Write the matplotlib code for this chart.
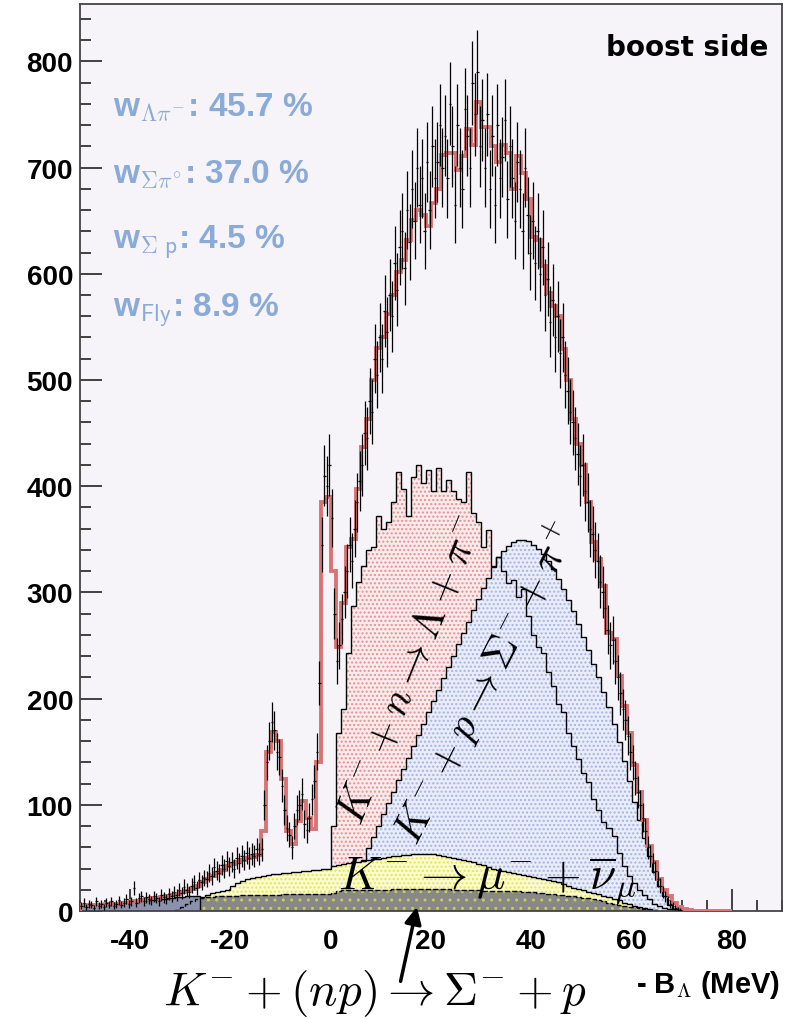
import numpy as np
import matplotlib
matplotlib.use("Agg")
import matplotlib.pyplot as plt
from matplotlib.ticker import MultipleLocator

plt.rcParams['font.family'] = ['Liberation Sans', 'DejaVu Sans']
plt.rcParams['font.weight'] = 'bold'
plt.rcParams['mathtext.fontset'] = 'cm'
plt.rcParams['axes.unicode_minus'] = False
plt.rcParams['hatch.linewidth'] = 1.0

# total fit, 1 MeV bins starting at -50
total_start = -50
total = [6, 6, 6, 6, 6, 7, 7, 7, 8, 8,
         9, 9, 10, 11, 12, 12, 13, 14, 15, 16,
         17.5, 19, 21, 24, 27, 30, 33, 36, 39, 42,
         44, 46, 48, 50, 51, 53, 75, 150, 169, 160,
         124, 75, 63, 85, 104, 88, 77, 140, 385, 390,
         320, 249, 290, 343, 350, 397, 437, 463, 500, 530,
         540, 562, 580, 602, 613, 632, 651, 660, 655, 645,
         667, 680, 712, 714, 714, 698, 711, 736, 721, 762,
         738, 738, 720, 705, 721, 714, 680, 711, 695, 670,
         635, 632, 607, 582, 570, 560, 529, 500, 463, 440,
         420, 385, 347, 331, 306, 262, 256, 221, 193, 168,
         137, 112, 86, 61, 46, 30, 20, 14, 8, 4,
         2, 0.5, 0, 0, 0, 0, 0, 0, 0, 0]

# measured spectrum, 0.5 MeV bins starting at -50
data_start = -50
data = [5, 8, 4, 7, 6, 3, 9, 5, 7, 4, 8, 6, 9, 5, 7, 10, 6, 8, 11, 7,
        9, 22, 8, 12, 14, 9, 13, 11, 10, 14, 12, 9, 15, 13, 11, 16, 14, 18, 15, 20,
        17, 23, 20, 18, 24, 27, 22, 29, 27, 31, 30, 36, 33, 41, 38, 36, 43, 40, 47, 42,
        46, 40, 50, 45, 52, 48, 55, 50, 54, 52, 58, 54,
        58, 100, 140, 160, 178, 170, 150, 145, 118, 95, 78, 72, 60, 80, 95, 100, 110, 82,
        76, 88, 105, 122, 150, 215,
        345, 410, 400, 420, 370, 280, 235, 250, 275, 300, 320, 345, 330, 360, 385, 405,
        420, 450, 445, 480, 470, 520, 505, 540, 520, 565, 545, 580, 560, 610, 585, 625,
        640, 605, 660, 630, 680, 650, 700, 665, 690, 640, 705, 660,
        720, 690, 705, 740, 700, 730, 690, 760, 720, 665, 740, 700, 680, 755, 730, 700,
        780, 750, 790, 720, 745, 700, 750, 680, 730, 665, 740, 690, 710, 745, 670, 720,
        690, 650, 705, 680, 640, 700, 655, 620,
        650, 610, 640, 600, 625, 580, 595, 555, 575, 540, 560, 525, 540, 505, 490, 470,
        460, 445, 430, 410, 420, 395, 385, 360, 355, 340, 330, 310, 300, 285,
        265, 250, 255, 235, 220, 205, 190, 180, 165, 150, 140, 125, 112, 100, 88, 75,
        60, 52, 45, 38, 30, 24, 18, 14, 10, 7, 5, 3, 2, 1]

# K- + n -> Lambda + pi-
lam_start = 0
lam_pi = [80, 168, 190, 243, 287, 310, 325, 340, 343, 372,
          360, 366, 385, 413, 397, 372, 409, 420, 403, 415,
          395, 417, 395, 406, 395, 388, 385, 413, 375, 366,
          343, 359, 325, 333, 320, 309, 312, 296, 303, 278,
          260, 249, 243, 225, 212, 195, 187, 168, 155, 143,
          130, 121, 105, 95, 84, 78, 71, 55, 42, 33,
          26, 20, 15, 11, 7, 4.5, 3, 1.5, 0.5]

# K- + p -> Sigma- + pi+
sig_start = 2
sig_pi = [5, 16, 27, 37, 48, 59, 70, 80,
          91, 102, 112, 123, 134, 144, 155, 166, 176, 187,
          198, 208, 219, 230, 240, 251, 262, 272, 283, 294,
          304, 314, 324, 333, 339, 344, 347, 349, 349, 348,
          345, 341, 336, 330, 322, 313, 303, 293, 282, 270,
          258, 246, 233, 220, 206, 192, 176, 159, 141, 122,
          103, 86, 69, 52, 37, 24, 14, 6, 2, 0.5]

# K- -> mu- + nubar
mu_start = -30
mu_nu = [4, 7, 9, 11, 13, 15, 17, 18, 19, 20,
         24, 26, 28, 30, 31, 32, 33, 34, 35, 35,
         36, 36, 37, 37, 38, 38, 39, 39, 40, 40,
         42, 43, 44, 45, 46, 46, 47, 48, 49, 49,
         50, 51, 52, 52, 53, 53, 54, 54, 54, 54,
         54, 53, 52, 51, 50, 49, 48, 47, 46, 44,
         43, 41, 40, 39, 38, 37, 36, 35, 34, 33,
         32, 31, 30, 29, 28, 27, 25, 24, 22, 21,
         20, 18, 17, 16, 14, 13, 11, 10, 8, 7,
         5, 4, 3, 1.5, 0.5]

# K- + (np) -> Sigma- + p
sp_start = -31
sig_p = [1, 4, 7, 9, 11, 12, 13, 13, 14, 14,
         14, 14, 14, 15, 15, 15, 15, 15, 15, 15,
         15, 16, 16, 16, 16, 16, 16, 16, 16, 16,
         16, 17, 19, 20, 20, 20, 20, 20, 20, 20,
         20, 20, 20, 21, 21, 21, 21, 21, 21, 21,
         21, 21, 21, 21, 21, 20, 20, 20, 20, 20,
         20, 19, 19, 19, 19, 19, 19, 19, 19, 18,
         18, 18, 17, 17, 16, 16, 15, 15, 14, 14,
         13, 12, 12, 11, 10, 9, 8, 7, 6, 5,
         4, 3.5, 3, 2, 1, 0.5]

# in-flight decays
fly_start = -50
fly = [6, 6.5, 6.5, 7, 7, 7.5, 7.5, 8, 8.5, 8.5,
       9, 9.5, 10, 10, 10.5, 11, 11.5, 12, 12.5, 13,
       13.5, 14, 14, 14]

weights = [r"w$_{\Lambda\pi^{-}}$: 45.7 %", r"w$_{\Sigma\pi^{\circ}}$: 37.0 %",
           r"w$_{\Sigma\ \mathsf{p}}$: 4.5 %", r"w$_{\mathsf{Fly}}$: 8.9 %"]
weight_y = [757, 694, 630, 566]


def edges(start, vals, width=1.0):
    return start + width * np.arange(len(vals) + 1)


fig = plt.figure(figsize=(7.89, 10.20), dpi=100)
ax = fig.add_axes([80 / 789, 108 / 1020, 702 / 789, 907 / 1020])
ax.set_facecolor('#f6f4f8')
ax.set_axisbelow(True)

# components, drawn from zero and overlaid like the ROOT canvas
ax.stairs(lam_pi, edges(lam_start, lam_pi), fill=True, facecolor='#f7eced',
          edgecolor='#ec8e8e', hatch='....', lw=0, zorder=1)
ax.stairs(sig_pi, edges(sig_start, sig_pi), fill=True, facecolor='#eaedf7',
          edgecolor='#a2b3e6', hatch='....', lw=0, zorder=1.1)
ax.stairs(lam_pi, edges(lam_start, lam_pi), color='black', lw=1.0, zorder=1.6)
ax.stairs(sig_pi, edges(sig_start, sig_pi), color='black', lw=1.0, zorder=1.6)
ax.stairs(mu_nu, edges(mu_start, mu_nu), fill=True, facecolor='#fafad4',
          edgecolor='#e8e840', hatch='....', lw=0, zorder=1.7)
ax.stairs(mu_nu, edges(mu_start, mu_nu), color='black', lw=1.0, zorder=1.8)
ax.stairs(sig_p, edges(sp_start, sig_p), fill=True, facecolor='#888888',
          edgecolor='#cccc55', hatch='..', lw=0, zorder=1.9)
ax.stairs(sig_p, edges(sp_start, sig_p), color='black', lw=1.0, ls='--', zorder=1.95)
ax.stairs(fly, edges(fly_start, fly), fill=True, facecolor='#8c92ae', lw=0, zorder=1.9)
ax.stairs(fly, edges(fly_start, fly), color='black', lw=1.0, zorder=1.95)

# total fit
ax.stairs(total, edges(total_start, total), color='#d97474', lw=2.8, zorder=3)

# data
d = np.array(data, dtype=float)
xc = data_start + 0.5 * np.arange(len(d)) + 0.25
ax.errorbar(xc, d, yerr=np.sqrt(2 * d), xerr=0.25, fmt='none', ecolor='black',
            elinewidth=0.9, zorder=4)

ax.set_xlim(-50, 90)
ax.set_ylim(0, 854)
ax.xaxis.set_major_locator(MultipleLocator(20))
ax.xaxis.set_minor_locator(MultipleLocator(5))
ax.yaxis.set_major_locator(MultipleLocator(100))
ax.yaxis.set_minor_locator(MultipleLocator(20))
ax.tick_params(which='both', direction='in', top=False, right=False, color='#222222', width=1.2)
ax.tick_params(which='major', length=16)
ax.tick_params(which='minor', length=8)
ax.tick_params(axis='x', which='major', pad=12, labelsize=20)
ax.tick_params(axis='y', which='major', pad=5, labelsize=20)
for s in ax.spines.values():
    s.set_color('#444444')
    s.set_linewidth(1.3)

# weights
for lab, yy in zip(weights, weight_y):
    ax.text(-43.5, yy, lab, color='#8aaad8', fontsize=24, fontweight='bold',
            va='center', ha='left', zorder=5)

ax.text(0.981, 0.968, 'boost side', transform=ax.transAxes, ha='right', va='top',
        fontsize=20, fontweight='bold', family='DejaVu Sans', zorder=5)

# process labels
ax.text(16.3, 228, r'$K^{-}+n\rightarrow\Lambda+\pi^{-}$', rotation=68,
        rotation_mode='anchor', ha='center', va='center', fontsize=31, zorder=5)
ax.text(31.0, 215, r'$K^{-}+p\rightarrow\Sigma^{-}+\pi^{+}$', rotation=63,
        rotation_mode='anchor', ha='center', va='center', fontsize=31, zorder=5)
ax.text(1.5, 20.5, r'$K^{-}\rightarrow\mu^{-}+\overline{\nu}_{\mu}$', ha='left',
        va='baseline', fontsize=34, zorder=5)

fig.text(163 / 789, 1 - 1005 / 1020, r'$K^{-}+(np)\rightarrow\Sigma^{-}+p$',
         ha='left', va='baseline', fontsize=34)
ax.annotate('', xy=(17.3, 6.3), xycoords='data',
            xytext=(400 / 789, 1 - 985 / 1020), textcoords='figure fraction',
            arrowprops=dict(arrowstyle='-|>', lw=2.5, color='black', mutation_scale=25),
            annotation_clip=False, zorder=6)

fig.text(780 / 789, 1 - 985 / 1020, r'- B$_{\Lambda}$ (MeV)', ha='right', va='center',
         fontsize=21, fontweight='bold')

fig.savefig('out.png', dpi=100)
